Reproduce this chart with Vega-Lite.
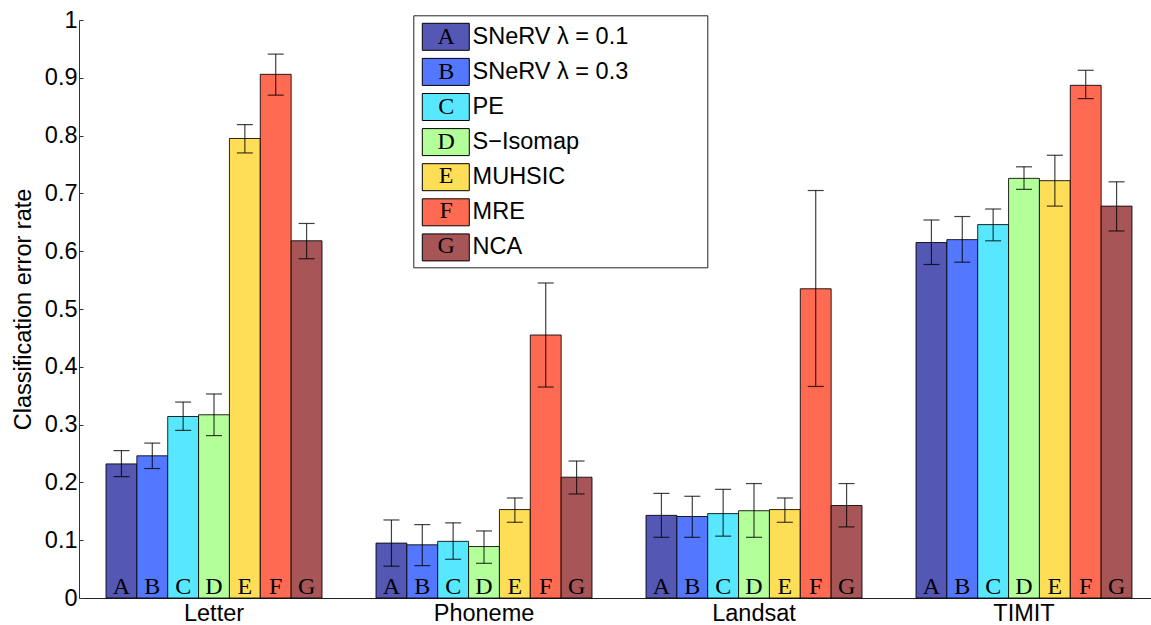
{
  "$schema": "https://vega.github.io/schema/vega-lite/v6.json",
  "autosize": {"type": "none"},
  "padding": {"left": 79, "top": 20, "right": 0, "bottom": 27},
  "width": 1072,
  "height": 578,
  "background": "white",
  "config": {
    "view": {"stroke": null},
    "axis": {"grid": false, "labelFont": "Liberation Sans", "titleFont": "Liberation Sans", "labelColor": "black", "titleColor": "black", "domainColor": "#333", "titleFontWeight": "normal"}
  },
  "data": {
    "values": [
      {"dataset": "Letter", "letter": "A", "method": "SNeRV λ = 0.1", "value": 0.232, "lo": 0.210, "hi": 0.255},
      {"dataset": "Letter", "letter": "B", "method": "SNeRV λ = 0.3", "value": 0.246, "lo": 0.224, "hi": 0.268},
      {"dataset": "Letter", "letter": "C", "method": "PE", "value": 0.314, "lo": 0.290, "hi": 0.339},
      {"dataset": "Letter", "letter": "D", "method": "S−Isomap", "value": 0.317, "lo": 0.281, "hi": 0.353},
      {"dataset": "Letter", "letter": "E", "method": "MUHSIC", "value": 0.795, "lo": 0.770, "hi": 0.819},
      {"dataset": "Letter", "letter": "F", "method": "MRE", "value": 0.906, "lo": 0.870, "hi": 0.941},
      {"dataset": "Letter", "letter": "G", "method": "NCA", "value": 0.618, "lo": 0.587, "hi": 0.648},
      {"dataset": "Phoneme", "letter": "A", "method": "SNeRV λ = 0.1", "value": 0.095, "lo": 0.055, "hi": 0.135},
      {"dataset": "Phoneme", "letter": "B", "method": "SNeRV λ = 0.3", "value": 0.092, "lo": 0.056, "hi": 0.127},
      {"dataset": "Phoneme", "letter": "C", "method": "PE", "value": 0.098, "lo": 0.067, "hi": 0.130},
      {"dataset": "Phoneme", "letter": "D", "method": "S−Isomap", "value": 0.089, "lo": 0.060, "hi": 0.116},
      {"dataset": "Phoneme", "letter": "E", "method": "MUHSIC", "value": 0.153, "lo": 0.131, "hi": 0.173},
      {"dataset": "Phoneme", "letter": "F", "method": "MRE", "value": 0.455, "lo": 0.365, "hi": 0.545},
      {"dataset": "Phoneme", "letter": "G", "method": "NCA", "value": 0.209, "lo": 0.180, "hi": 0.237},
      {"dataset": "Landsat", "letter": "A", "method": "SNeRV λ = 0.1", "value": 0.143, "lo": 0.105, "hi": 0.181},
      {"dataset": "Landsat", "letter": "B", "method": "SNeRV λ = 0.3", "value": 0.141, "lo": 0.105, "hi": 0.176},
      {"dataset": "Landsat", "letter": "C", "method": "PE", "value": 0.146, "lo": 0.107, "hi": 0.188},
      {"dataset": "Landsat", "letter": "D", "method": "S−Isomap", "value": 0.151, "lo": 0.105, "hi": 0.198},
      {"dataset": "Landsat", "letter": "E", "method": "MUHSIC", "value": 0.153, "lo": 0.131, "hi": 0.173},
      {"dataset": "Landsat", "letter": "F", "method": "MRE", "value": 0.535, "lo": 0.366, "hi": 0.705},
      {"dataset": "Landsat", "letter": "G", "method": "NCA", "value": 0.160, "lo": 0.123, "hi": 0.198},
      {"dataset": "TIMIT", "letter": "A", "method": "SNeRV λ = 0.1", "value": 0.615, "lo": 0.577, "hi": 0.654},
      {"dataset": "TIMIT", "letter": "B", "method": "SNeRV λ = 0.3", "value": 0.620, "lo": 0.581, "hi": 0.660},
      {"dataset": "TIMIT", "letter": "C", "method": "PE", "value": 0.646, "lo": 0.618, "hi": 0.673},
      {"dataset": "TIMIT", "letter": "D", "method": "S−Isomap", "value": 0.726, "lo": 0.707, "hi": 0.746},
      {"dataset": "TIMIT", "letter": "E", "method": "MUHSIC", "value": 0.722, "lo": 0.678, "hi": 0.766},
      {"dataset": "TIMIT", "letter": "F", "method": "MRE", "value": 0.887, "lo": 0.864, "hi": 0.913},
      {"dataset": "TIMIT", "letter": "G", "method": "NCA", "value": 0.678, "lo": 0.635, "hi": 0.720}
    ]
  },
  "encoding": {
    "x": {
      "field": "dataset", "type": "nominal", "sort": ["Letter", "Phoneme", "Landsat", "TIMIT"],
      "scale": {"paddingInner": 0.2, "paddingOuter": 0.0852, "align": 0.587},
      "axis": {"title": null, "labelAngle": 0, "labelFontSize": 23.5, "labelPadding": 3, "ticks": false, "domainColor": "#222"}
    },
    "xOffset": {
      "field": "letter", "type": "nominal", "sort": ["A", "B", "C", "D", "E", "F", "G"],
      "scale": {"paddingInner": 0, "paddingOuter": 0}
    }
  },
  "layer": [
    {
      "mark": {"type": "bar", "strokeWidth": 1, "strokeOpacity": 0.85},
      "encoding": {
        "y": {
          "field": "value", "type": "quantitative",
          "scale": {"domain": [0, 1], "nice": false},
          "axis": {"title": "Classification error rate", "titleFontSize": 23.5, "titlePadding": 9, "labelFontSize": 23.5, "labelPadding": 6, "values": [0, 0.1, 0.2, 0.3, 0.4, 0.5, 0.6, 0.7, 0.8, 0.9, 1], "format": ".1~f", "tickSize": -4, "tickColor": "#333"}
        },
        "fill": {
          "field": "method", "type": "nominal",
          "scale": {
            "domain": ["SNeRV λ = 0.1", "SNeRV λ = 0.3", "PE", "S−Isomap", "MUHSIC", "MRE", "NCA"],
            "range": ["#5457B3", "#5477FF", "#57E8FF", "#B3FF99", "#FFDE57", "#FF6A52", "#A85558"]
          },
          "legend": {
            "orient": "none", "legendX": 334.3, "legendY": -4.7, "title": null, "padding": 7.5,
            "symbolType": "M-1.74,-1h3.48v2h-3.48z", "symbolSize": 729, "symbolStrokeColor": "black", "symbolStrokeWidth": 1, "symbolOpacity": 1,
            "symbolOffset": 11, "labelOffset": 12.8, "labelFont": "Liberation Sans", "labelFontSize": 23.5, "labelColor": "black", "labelLimit": 400,
            "rowPadding": 3.1, "zindex": 0
          }
        },
        "stroke": {
          "field": "letter", "type": "nominal",
          "scale": {"domain": ["A", "B", "C", "D", "E", "F", "G"], "range": ["black", "black", "black", "black", "black", "black", "black"]},
          "legend": {
            "orient": "none", "legendX": 334.3, "legendY": -4.7, "title": null, "padding": 7.5,
            "strokeColor": "#222", "symbolType": "circle", "symbolSize": 729, "symbolOpacity": 0, "symbolStrokeWidth": 1,
            "symbolOffset": 251, "labelOffset": -253.6, "labelAlign": "center", "labelFont": "Liberation Serif", "labelFontSize": 24, "labelColor": "black",
            "rowPadding": 6.9, "zindex": 1
          }
        }
      }
    },
    {
      "mark": {"type": "text", "font": "Liberation Serif", "fontSize": 24, "baseline": "alphabetic", "align": "center", "dy": -4, "color": "black"},
      "encoding": {
        "y": {"datum": 0, "type": "quantitative"},
        "text": {"field": "letter"}
      }
    },
    {
      "mark": {"type": "rule", "color": "black", "opacity": 0.75, "strokeWidth": 1.2},
      "encoding": {
        "y": {"field": "lo", "type": "quantitative"},
        "y2": {"field": "hi"}
      }
    },
    {
      "mark": {"type": "tick", "color": "black", "opacity": 0.75, "thickness": 1.2, "size": 16, "orient": "horizontal"},
      "encoding": {
        "y": {"field": "lo", "type": "quantitative"}
      }
    },
    {
      "mark": {"type": "tick", "color": "black", "opacity": 0.75, "thickness": 1.2, "size": 16, "orient": "horizontal"},
      "encoding": {
        "y": {"field": "hi", "type": "quantitative"}
      }
    }
  ]
}
